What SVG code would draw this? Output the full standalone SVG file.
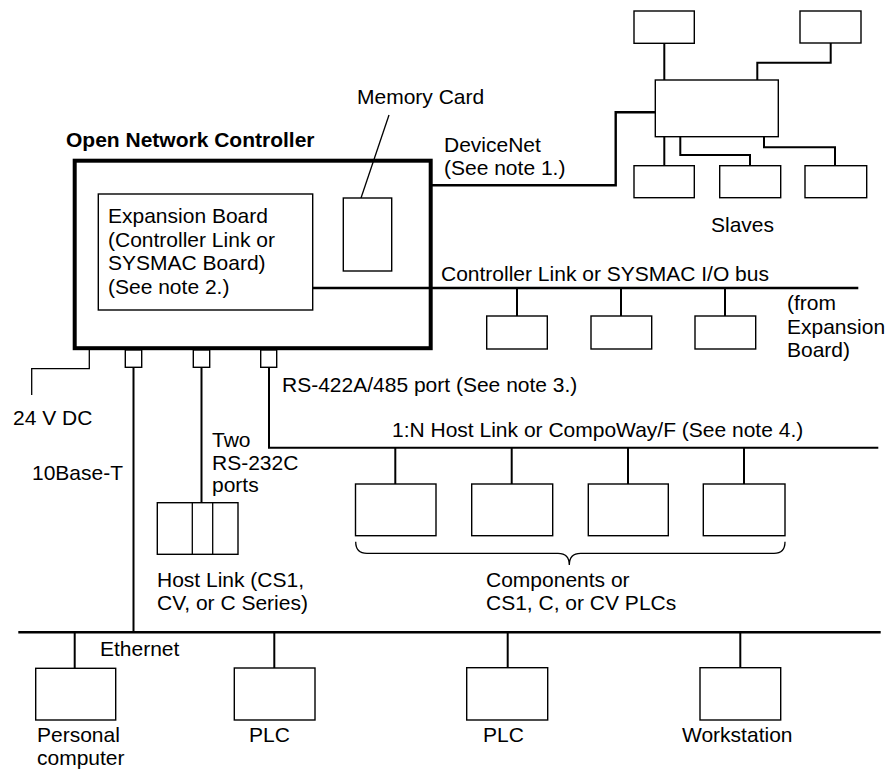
<svg xmlns="http://www.w3.org/2000/svg" width="895" height="769" viewBox="0 0 895 769">
<style>
  .box { fill: #fff; stroke: #000; stroke-width: 1.4; }
  .main { fill: none; stroke: #000; stroke-width: 4; }
  .wire { fill: none; stroke: #000; stroke-width: 2; }
  .thin { fill: none; stroke: #000; stroke-width: 1.3; }
  .bus { fill: none; stroke: #000; stroke-width: 2.4; }
  text { font-family: "Liberation Sans", Arial, Helvetica, sans-serif; font-size: 21px; fill: #000; }
  .bold { font-weight: bold; }
</style>
<rect width="895" height="769" fill="#fff"/>

<g id="connectors">
  <!-- DeviceNet -->
  <polyline class="bus" points="432,185.3 615.7,185.3 615.7,112.3 655.3,112.3"/>
  <line class="wire" x1="664.3" y1="43.3" x2="664.3" y2="80"/>
  <polyline class="wire" points="830.7,43 830.7,62.7 757.3,62.7 757.3,80"/>
  <line class="wire" x1="664.3" y1="136.7" x2="664.3" y2="165.7"/>
  <polyline class="wire" points="680.3,136.7 680.3,155 750,155 750,165.7"/>
  <polyline class="wire" points="764,136.7 764,147.3 835,147.3 835,165.7"/>
  <!-- Memory card leader -->
  <line class="thin" x1="361" y1="198" x2="389" y2="115"/>
  <!-- Controller Link bus -->
  <line class="bus" x1="312.7" y1="288" x2="858.3" y2="288"/>
  <line class="wire" x1="517" y1="288" x2="517" y2="316"/>
  <line class="wire" x1="621" y1="288" x2="621" y2="316"/>
  <line class="wire" x1="725" y1="288" x2="725" y2="316"/>
  <!-- 24 V DC -->
  <polyline class="thin" points="89.3,350 89.3,368.7 31.7,368.7 31.7,395"/>
  <!-- 10Base-T -->
  <line class="wire" x1="133.5" y1="367.3" x2="133.5" y2="632"/>
  <!-- RS-232C -->
  <line class="wire" x1="201.5" y1="367.3" x2="201.5" y2="502.7"/>
  <!-- RS-422A/485 -->
  <polyline class="wire" points="269,367.3 269,447.7 878.3,447.7"/>
  <line class="wire" x1="395.3" y1="447.7" x2="395.3" y2="484"/>
  <line class="wire" x1="511.7" y1="447.7" x2="511.7" y2="484"/>
  <line class="wire" x1="628" y1="447.7" x2="628" y2="484"/>
  <line class="wire" x1="744" y1="447.7" x2="744" y2="484"/>
  <!-- Brace -->
  <path class="thin" d="M355.7,541.7 Q355.7,553.3 367,553.3 L558,553.3 Q569.3,553.3 569.3,565 Q569.3,553.3 580.6,553.3 L774,553.3 Q785,553.3 785,541.7"/>
  <!-- Ethernet -->
  <line class="bus" x1="18.3" y1="632.3" x2="880.7" y2="632.3"/>
  <line class="wire" x1="74.7" y1="632.3" x2="74.7" y2="668.3"/>
  <line class="wire" x1="274.3" y1="632.3" x2="274.3" y2="668"/>
  <line class="wire" x1="507.7" y1="632.3" x2="507.7" y2="667.7"/>
  <line class="wire" x1="740.3" y1="632.3" x2="740.3" y2="667.7"/>
</g>

<g id="onc">
  <rect class="main" x="74.7" y="160.7" width="356" height="187.5"/>
  <text class="bold" x="66" y="147">Open Network Controller</text>
</g>
<g id="expansion-board">
  <rect class="box" x="98.3" y="194" width="214.4" height="116"/>
  <text x="108" y="223">Expansion Board</text>
  <text x="108" y="247">(Controller Link or</text>
  <text x="108" y="270">SYSMAC Board)</text>
  <text x="108" y="294">(See note 2.)</text>
</g>
<g id="memory-card">
  <rect class="box" x="343.3" y="198" width="48.4" height="73"/>
  <text x="357" y="104">Memory Card</text>
</g>
<g id="ports">
  <rect class="box" x="125.3" y="350" width="16.4" height="17.3"/>
  <rect class="box" x="193.3" y="350" width="16.4" height="17.3"/>
  <rect class="box" x="260.7" y="350" width="16" height="17.3"/>
</g>

<g id="devicenet-label">
  <text x="444" y="152">DeviceNet</text>
  <text x="444" y="175">(See note 1.)</text>
</g>
<g id="devicenet-hub"><rect class="box" x="655.3" y="80" width="123" height="56.7"/></g>
<g id="slave-top-1"><rect class="box" x="634" y="11" width="60.3" height="32.3"/></g>
<g id="slave-top-2"><rect class="box" x="800" y="11" width="61" height="32"/></g>
<g id="slave-1"><rect class="box" x="634" y="165.7" width="60.3" height="32"/></g>
<g id="slave-2"><rect class="box" x="719.7" y="165.7" width="61" height="32"/></g>
<g id="slave-3"><rect class="box" x="805" y="165.7" width="61.7" height="32"/></g>
<g id="slaves-label"><text x="711" y="232">Slaves</text></g>

<g id="clink-label">
  <text x="441" y="281">Controller Link or SYSMAC I/O bus</text>
  <text x="787" y="310">(from</text>
  <text x="787" y="334">Expansion</text>
  <text x="787" y="357">Board)</text>
</g>
<g id="clink-1"><rect class="box" x="486.7" y="316" width="60.6" height="33"/></g>
<g id="clink-2"><rect class="box" x="591" y="316" width="60.7" height="33"/></g>
<g id="clink-3"><rect class="box" x="695" y="316" width="60.7" height="33"/></g>

<g id="labels-left">
  <text x="282" y="392">RS-422A/485 port (See note 3.)</text>
  <text x="13" y="425">24 V DC</text>
  <text x="392" y="437">1:N Host Link or CompoWay/F (See note 4.)</text>
  <text x="212" y="447">Two</text>
  <text x="212" y="470">RS-232C</text>
  <text x="212" y="492">ports</text>
  <text x="32" y="480">10Base-T</text>
</g>

<g id="host-link">
  <rect class="box" x="157.3" y="502.7" width="80.7" height="51.6"/>
  <line class="thin" x1="192.3" y1="502.7" x2="192.3" y2="554.3"/>
  <line class="thin" x1="212.7" y1="502.7" x2="212.7" y2="554.3"/>
  <text x="157" y="587">Host Link (CS1,</text>
  <text x="157" y="610">CV, or C Series)</text>
</g>

<g id="comp-1"><rect class="box" x="355.5" y="484" width="80.5" height="51.7"/></g>
<g id="comp-2"><rect class="box" x="471.7" y="484" width="81" height="51.7"/></g>
<g id="comp-3"><rect class="box" x="588.3" y="484" width="80" height="51.7"/></g>
<g id="comp-4"><rect class="box" x="703.3" y="484" width="81.7" height="51.7"/></g>
<g id="components-label">
  <text x="486" y="587">Components or</text>
  <text x="486" y="610">CS1, C, or CV PLCs</text>
</g>

<g id="ethernet-label"><text x="100" y="656">Ethernet</text></g>
<g id="pc">
  <rect class="box" x="35.7" y="668.3" width="80" height="51.7"/>
  <text x="37" y="742">Personal</text>
  <text x="37" y="765">computer</text>
</g>
<g id="plc-1">
  <rect class="box" x="234.3" y="668" width="80.7" height="52"/>
  <text x="249" y="742">PLC</text>
</g>
<g id="plc-2">
  <rect class="box" x="466.7" y="667.7" width="81" height="52.3"/>
  <text x="483" y="742">PLC</text>
</g>
<g id="workstation">
  <rect class="box" x="700" y="667.7" width="80.7" height="52.3"/>
  <text x="682" y="742">Workstation</text>
</g>
</svg>
